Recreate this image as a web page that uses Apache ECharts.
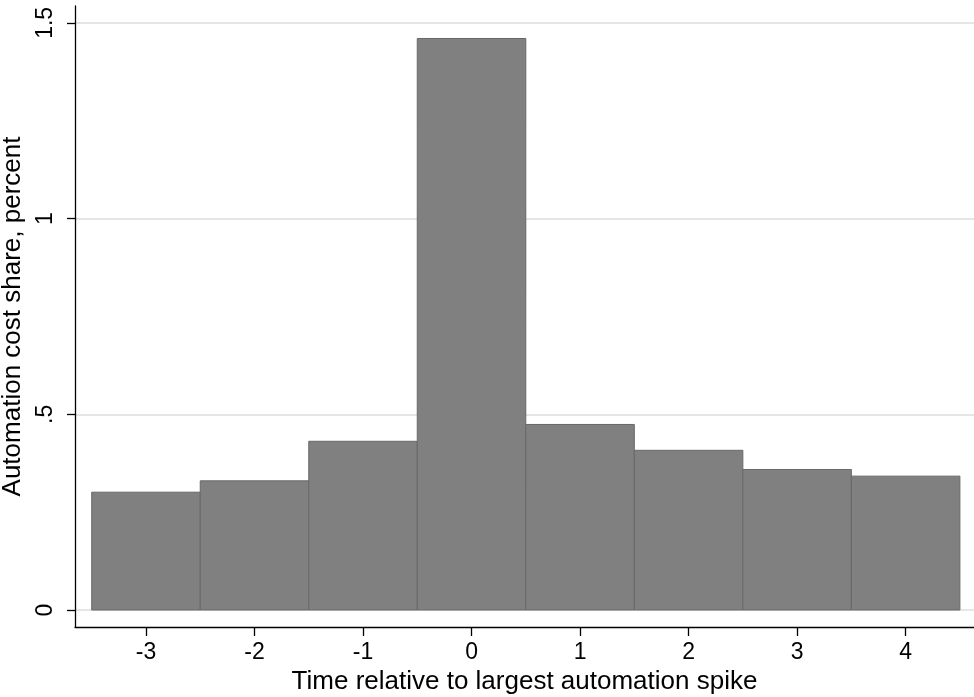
<!DOCTYPE html>
<html>
<head>
<meta charset="utf-8">
<script src="https://cdn.jsdelivr.net/npm/echarts@6/dist/echarts.min.js"></script>
<style>
  html, body { margin: 0; padding: 0; background: #fff; }
  #chart { width: 974px; height: 697px; }
</style>
</head>
<body>
<div id="chart"></div>
<script>
// data
var periods = [-3, -2, -1, 0, 1, 2, 3, 4];
var shares = [0.301, 0.330, 0.431, 1.460, 0.474, 0.408, 0.359, 0.342];
var xTicks = [-3, -2, -1, 0, 1, 2, 3, 4];
var yTicks = [0, 0.5, 1, 1.5];
var yTickLabels = ['0', '.5', '1', '1.5'];

var font = 'Liberation Sans, Arial, sans-serif';
var chart = echarts.init(document.getElementById('chart'));

var barData = [];
for (var i = 0; i < periods.length; i++) {
    barData.push([periods[i], shares[i]]);
}

chart.setOption({
    animation: false,
    backgroundColor: '#fff',
    grid: { left: 75, right: 0, top: 6, bottom: 70, outerBoundsMode: 'none', containLabel: false },
    xAxis: {
        type: 'value',
        min: -3.654,
        max: 4.63,
        name: 'Time relative to largest automation spike',
        nameLocation: 'middle',
        nameGap: 39,
        nameTextStyle: { color: '#000', fontSize: 26, fontFamily: font },
        axisLine: { onZero: false, lineStyle: { color: '#000', width: 1.3 } },
        axisTick: { customValues: xTicks, length: 9, lineStyle: { color: '#000', width: 1.3 } },
        axisLabel: {
            customValues: xTicks,
            color: '#000', fontSize: 23, fontFamily: font, margin: 14
        },
        splitLine: { show: false }
    },
    yAxis: {
        type: 'value',
        min: -0.0434,
        max: 1.543,
        name: 'Automation cost share, percent',
        nameLocation: 'middle',
        nameRotate: 90,
        nameGap: 46,
        nameTextStyle: { color: '#000', fontSize: 26, fontFamily: font },
        axisLine: { onZero: false, lineStyle: { color: '#000', width: 1.3 } },
        axisTick: { customValues: yTicks, length: 8, lineStyle: { color: '#000', width: 1.3 } },
        axisLabel: {
            customValues: yTicks,
            rotate: 90,
            margin: 18,
            color: '#000', fontSize: 23, fontFamily: font,
            formatter: function (v) {
                var k = yTicks.indexOf(v);
                return k >= 0 ? yTickLabels[k] : '';
            }
        },
        splitLine: { show: true, lineStyle: { color: '#e6e6e6', width: 2 } }
    },
    series: [{
        type: 'custom',
        data: barData,
        renderItem: function (params, api) {
            var x = api.value(0);
            var p0 = api.coord([x - 0.5, api.value(1)]);
            var p1 = api.coord([x + 0.5, 0]);
            return {
                type: 'rect',
                shape: { x: p0[0], y: p0[1], width: p1[0] - p0[0], height: p1[1] - p0[1] },
                style: { fill: '#808080', stroke: '#686868', lineWidth: 1 }
            };
        }
    }]
});
</script>
</body>
</html>
